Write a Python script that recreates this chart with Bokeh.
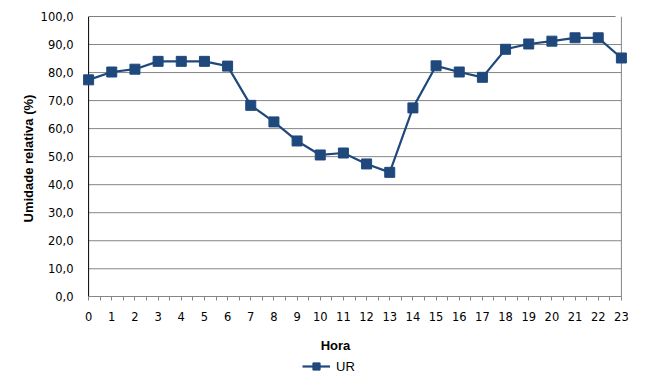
from bokeh.plotting import figure
from bokeh.models import Range1d, Legend, LegendItem, Label, FixedTicker, LinearAxis, Title
from bokeh.embed import file_html
from bokeh.resources import INLINE

# ---- data ----
hours = list(range(24))
ur = [77.4, 80.2, 81.2, 84.0, 84.0, 84.0, 82.3, 68.3, 62.4, 55.6, 50.6, 51.3,
      47.4, 44.4, 67.4, 82.4, 80.2, 78.3, 88.3, 90.2, 91.2, 92.4, 92.4, 85.2]
y_ticks = [0, 10, 20, 30, 40, 50, 60, 70, 80, 90, 100]
y_tick_labels = ["0,0", "10,0", "20,0", "30,0", "40,0", "50,0", "60,0",
                 "70,0", "80,0", "90,0", "100,0"]
series_name = "UR"
x_title = "Hora"
y_title = "Umidade relativa (%)"

BLUE = "#1F497D"
GRID = "#868686"
TICK_FONT = "DejaVu Sans"
TITLE_FONT = "Liberation Sans"

pad = 0.35
below = 32  # room below the 0 line, inside the frame, for labels and legend
p = figure(frame_width=549, frame_height=370,
           x_range=Range1d(hours[0] - pad, hours[-1] + pad),
           y_range=Range1d(y_ticks[0] - below, y_ticks[-1]),
           x_axis_location=None,
           output_backend="svg", toolbar_location=None,
           min_border_left=80, min_border_right=20,
           min_border_top=16, min_border_bottom=0)
p.outline_line_color = None
p.xgrid.visible = False
p.ygrid.visible = False
p.background_fill_color = "white"
p.border_fill_color = "white"

# gridlines
p.segment(x0=hours[0], x1=hours[-1], y0=y_ticks[1:-1], y1=y_ticks[1:-1],
          line_color=GRID, line_width=1)
# top border (black), right border (grey), left axis line (black)
p.segment(x0=[hours[0]], x1=[hours[-1] - 0.25], y0=[y_ticks[-1]], y1=[y_ticks[-1]],
          line_color="black", line_width=1)
p.segment(x0=[hours[-1]], x1=[hours[-1]], y0=[y_ticks[0]], y1=[y_ticks[-1]],
          line_color=GRID, line_width=1)
p.segment(x0=[hours[0]], x1=[hours[0]], y0=[y_ticks[0]], y1=[y_ticks[-1]],
          line_color="black", line_width=1)

# data
r_line = p.line(hours, ur, line_color=BLUE, line_width=2.2)
r_pts = p.scatter(hours, ur, marker="square", size=10, fill_color=BLUE,
                  line_color=BLUE)

# x axis (drawn at y = 0 inside the frame)
xa = LinearAxis(fixed_location=y_ticks[0])
xa.bounds = (hours[0], hours[-1])
xa.ticker = FixedTicker(ticks=hours, minor_ticks=[h + 0.5 for h in hours[:-1]])
xa.axis_line_color = GRID
xa.major_tick_line_color = GRID
xa.minor_tick_line_color = GRID
xa.major_tick_out = 4
xa.major_tick_in = 0
xa.minor_tick_out = 4
xa.minor_tick_in = 0
xa.major_label_standoff = 11
xa.major_label_text_font = TICK_FONT
xa.major_label_text_font_size = "11.5px"
xa.major_label_text_color = "black"
p.add_layout(xa, "below")

# y axis
ya = p.yaxis[0]
ya.bounds = (y_ticks[0], y_ticks[-1])
ya.ticker = FixedTicker(ticks=y_ticks)
ya.major_label_overrides = {t: l for t, l in zip(y_ticks, y_tick_labels)}
ya.axis_line_color = None
ya.major_tick_out = 0
ya.major_tick_in = 0
ya.minor_tick_line_color = None
ya.major_label_standoff = 7
ya.major_label_text_font = TICK_FONT
ya.major_label_text_font_size = "11.5px"
ya.major_label_text_color = "black"

# y title, centred on the 0-100 part of the axis
p.add_layout(Title(text=y_title, align="left", offset=164, standoff=4,
                   vertical_align="bottom",
                   text_font=TITLE_FONT, text_font_size="13px",
                   text_font_style="bold", text_color="black"), "left")

# x title
p.add_layout(Label(x=10.66, y=-17.5, text=x_title, text_align="center",
                   text_baseline="middle", text_font=TITLE_FONT,
                   text_font_size="13px", text_font_style="bold",
                   text_color="black"))

legend = Legend(items=[LegendItem(label=series_name, renderers=[r_line, r_pts])],
                location=(222, 11), orientation="horizontal",
                border_line_color=None, background_fill_alpha=0,
                padding=0, margin=0, glyph_width=28, glyph_height=18,
                label_standoff=6, label_text_font=TITLE_FONT,
                label_text_font_size="13px", label_text_color="black")
p.add_layout(legend)

open("out.html", "w").write(file_html(p, INLINE))
